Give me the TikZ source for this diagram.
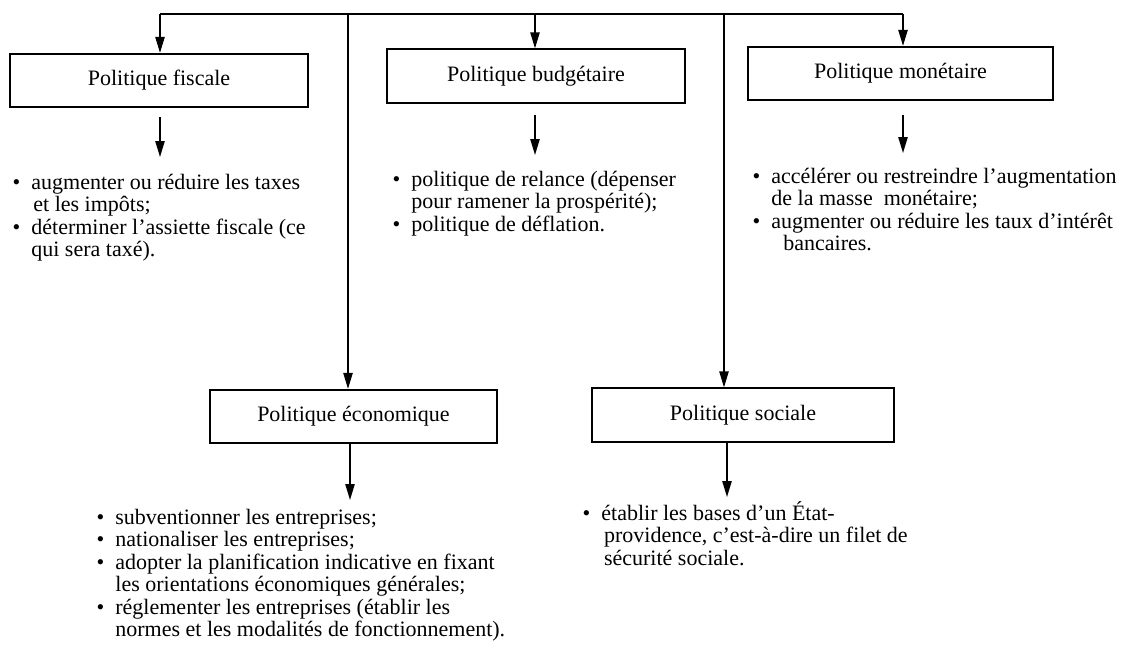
\documentclass[tikz,border=0pt]{standalone}
\usepackage{fontspec}
\setmainfont{Liberation Serif}
\usetikzlibrary{arrows.meta}

\tikzset{every picture/.style={line width=1.1pt}}
\tikzset{
  policy/.style={draw, line width=1.5pt, minimum height=40pt, inner sep=0.75pt},
  bulletlist/.style={anchor=base west, inner sep=0pt},
  arr/.style={-{Triangle[length=12pt,width=7pt]}}
}
\newcommand{\itemline}[1]{\hbox{\makebox[14pt][l]{\textbullet}#1}}
\newcommand{\contline}[1]{\hbox{\hspace*{14pt}#1}}
\newcommand{\listlines}[1]{\vtop{\baselineskip=16.9pt\lineskiplimit=-100pt\lineskip=0pt #1}}

\begin{document}
\begin{tikzpicture}[x=0.75pt,y=0.75pt,yscale=-1,xscale=1,font=\fontsize{16.5}{16.9}\selectfont]
        \useasboundingbox (0,0) rectangle (1133,661);

        % les cinq politiques
        \node [policy, minimum width=223.5pt] (fisc) at (159,80.5) {Politique fiscale};
        \node [policy, minimum width=223.5pt] (budg) at (536,76) {Politique budgétaire};
        \node [policy, minimum width=229pt] (mone) at (900.5,73.5) {Politique monétaire};
        \node [policy, minimum width=215pt] (econ) at (353.5,416.5) {Politique économique};
        \node [policy, minimum width=226.5pt] (soci) at (743,415) {Politique sociale};

        % ligne du haut
        \coordinate (busL) at (160,14);
        \coordinate (busR) at (903,14);
        \coordinate (busB) at (535,14);
        \coordinate (busE) at (348,14);
        \coordinate (busS) at (724,14);
        \draw (busL) -- (busR);
        \draw [arr] (busL) -- (busL |- fisc.north);
        \draw [arr] (busB) -- (busB |- budg.north);
        \draw [arr] (busR) -- (busR |- mone.north);
        \draw [arr] (busE) -- (busE |- econ.north);
        \draw [arr] (busS) -- (busS |- soci.north);

        % fleches vers les listes
        \coordinate (fiscA) at (160,117);
        \coordinate (fiscB) at (160,157);
        \coordinate (budgA) at (535,115);
        \coordinate (budgB) at (535,155);
        \coordinate (moneA) at (903,115);
        \coordinate (moneB) at (903,153);
        \coordinate (econB) at (350,500);
        \coordinate (sociB) at (727,497);
        \draw [arr] (fiscA) -- (fiscB);
        \draw [arr] (budgA) -- (budgB);
        \draw [arr] (moneA) -- (moneB);
        \draw [arr] (econB |- econ.south) -- (econB);
        \draw [arr] (sociB |- soci.south) -- (sociB);

        % listes
        \node [bulletlist] (fiscL) at (12,189) {\listlines{%
          \itemline{augmenter ou réduire les taxes}
          \contline{\kern1.5pt et les impôts;}
          \itemline{déterminer l'assiette fiscale (ce}
          \contline{qui sera taxé).}}};
        \node [bulletlist] (budgL) at (392,186) {\listlines{%
          \itemline{politique de relance (dépenser}
          \contline{pour ramener la prospérité);}
          \itemline{politique de déflation.}}};
        \node [bulletlist] (moneL) at (752,183) {\listlines{%
          \itemline{accélérer ou restreindre l'augmentation}
          \contline{de la masse\ \ monétaire;}
          \itemline{augmenter ou réduire les taux d'intérêt}
          \contline{\kern9pt bancaires.}}};
        \node [bulletlist] (econL) at (96,524) {\listlines{%
          \itemline{subventionner les entreprises;}
          \itemline{nationaliser les entreprises;}
          \itemline{adopter la planification indicative en fixant}
          \contline{les orientations économiques générales;}
          \itemline{réglementer les entreprises (établir les}
          \contline{normes et les modalités de fonctionnement).}}};
        \node [bulletlist] (sociL) at (582,520) {\listlines{%
          \itemline{établir les bases d'un État-}
          \contline{\kern2pt providence, c'est-à-dire un filet de}
          \contline{\kern2pt sécurité sociale.}}};
\end{tikzpicture}
\end{document}
